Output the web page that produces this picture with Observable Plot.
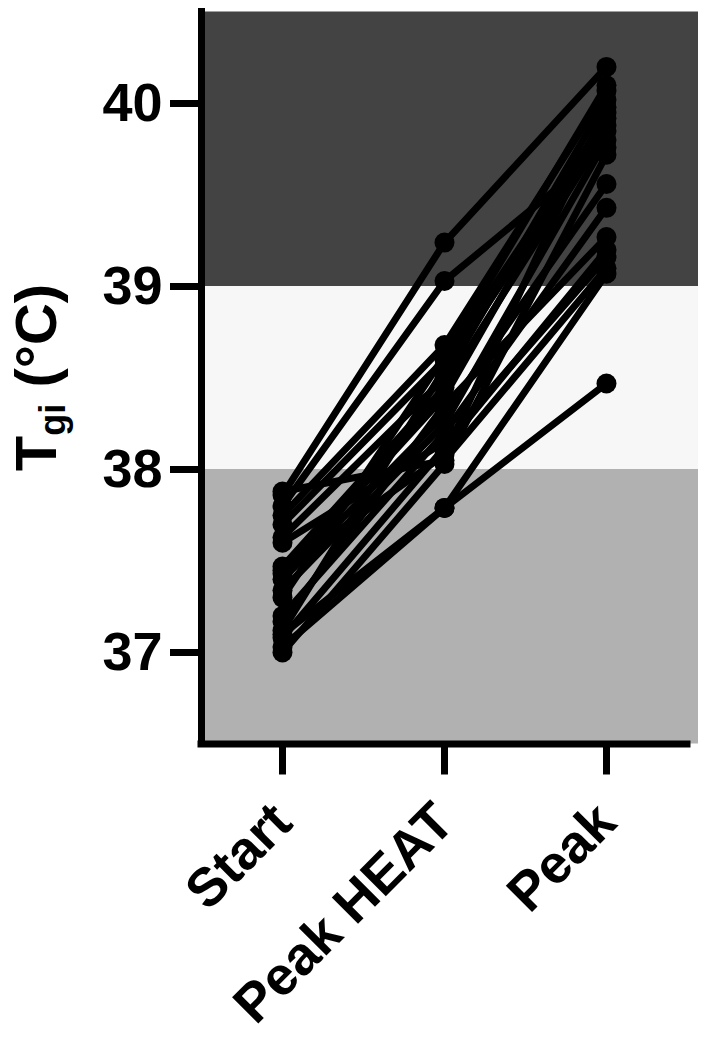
<!DOCTYPE html>
<html>
<head>
<meta charset="utf-8">
<script src="https://cdn.jsdelivr.net/npm/d3@7"></script>
<script src="https://cdn.jsdelivr.net/npm/@observablehq/plot@0.6"></script>
<style>
  html, body { margin: 0; padding: 0; background: #ffffff; }
  #chart svg { display: block; }
</style>
</head>
<body>
<div id="chart"></div>
<script>
// Categories (x positions by index)
const stages = ["Start", "Peak HEAT", "Peak"];

// One value per participant at each stage (°C)
const startT     = [37.86, 37.80, 37.10, 37.03, 37.88, 37.75, 37.70, 37.63, 37.47, 37.43,
                    37.40, 37.34, 37.30, 37.20, 37.17, 37.08, 37.00, 37.60, 37.12, 37.45];
const peakHeatT  = [39.24, 39.03, 37.79, 37.79, 38.05, 38.68, 38.60, 38.50, 38.45, 38.40,
                    38.30, 38.25, 38.62, 38.20, 38.35, 38.12, 38.03, 38.15, 38.55, 38.08];
const peakT      = [40.20, 39.76, 38.47, 39.07, 39.10, 40.07, 39.92, 40.02, 39.85, 39.95,
                    39.56, 39.80, 40.10, 39.43, 39.27, 39.20, 39.72, 39.16, 39.88, 39.98];

// Background zones
const bandLow    = [36.5, 38, 39];
const bandHigh   = [38, 39, 40.5];
const bandColor  = ["#b1b1b1", "#f7f7f7", "#434343"];

// Axis ticks
const yTicks = [37, 38, 39, 40];
const xTicks = [0, 1, 2];

const xDomain = [-0.5, 2.568];
const yDomain = [36.5, 40.5];

const rows = [];
startT.forEach((v, i) => {
  rows.push({subject: i, stage: 0, t: startT[i]});
  rows.push({subject: i, stage: 1, t: peakHeatT[i]});
  rows.push({subject: i, stage: 2, t: peakT[i]});
});
const bands = bandLow.map((lo, i) => ({lo, hi: bandHigh[i], color: bandColor[i]}));

const font = "'Liberation Sans', Arial, Helvetica, sans-serif";

const chart = Plot.plot({
  width: 708,
  height: 1038,
  marginLeft: 201,
  marginRight: 10,
  marginTop: 11.5,
  marginBottom: 294.5,
  style: {fontFamily: font, background: "#ffffff", color: "#000"},
  x: {type: "linear", domain: xDomain, axis: null},
  y: {domain: yDomain, axis: null},
  color: {type: "identity"},
  marks: [
    Plot.rect(bands, {x1: xDomain[0], x2: xDomain[1], y1: "lo", y2: "hi", fill: "color"}),
    Plot.line(rows, {x: "stage", y: "t", z: "subject", stroke: "#000", strokeWidth: 7, strokeLinejoin: "round"}),
    Plot.dot(rows, {x: "stage", y: "t", r: 10, fill: "#000", stroke: null}),
    Plot.ruleX([xDomain[0]], {stroke: "#000", strokeWidth: 7, strokeLinecap: "square"}),
    Plot.ruleY([yDomain[0]], {x1: xDomain[0], x2: 2.5, stroke: "#000", strokeWidth: 7, strokeLinecap: "square"}),
    Plot.axisY({
      ticks: yTicks, tickSize: 31, tickPadding: 8, strokeWidth: 7,
      fontSize: 54, fontWeight: "bold", label: null, tickFormat: d => String(d)
    }),
    Plot.axisX({
      ticks: xTicks, tickSize: 31, tickPadding: 38, tickRotate: -45, strokeWidth: 7,
      fontSize: 54, fontWeight: "bold", label: null, tickFormat: i => stages[i]
    })
  ]
});

document.getElementById("chart").appendChild(chart);

// Y-axis title with subscript
const svg = d3.select(chart);
const title = svg.append("text")
  .attr("transform", "translate(56,377.5) rotate(-90)")
  .attr("text-anchor", "middle")
  .attr("font-family", font)
  .attr("font-weight", "bold")
  .attr("font-size", 58)
  .attr("fill", "#000");
title.append("tspan").text("T");
title.append("tspan").attr("font-size", 36).attr("dy", 9).text("gi");
title.append("tspan").attr("dy", -9).text(" (°C)");
</script>
</body>
</html>
